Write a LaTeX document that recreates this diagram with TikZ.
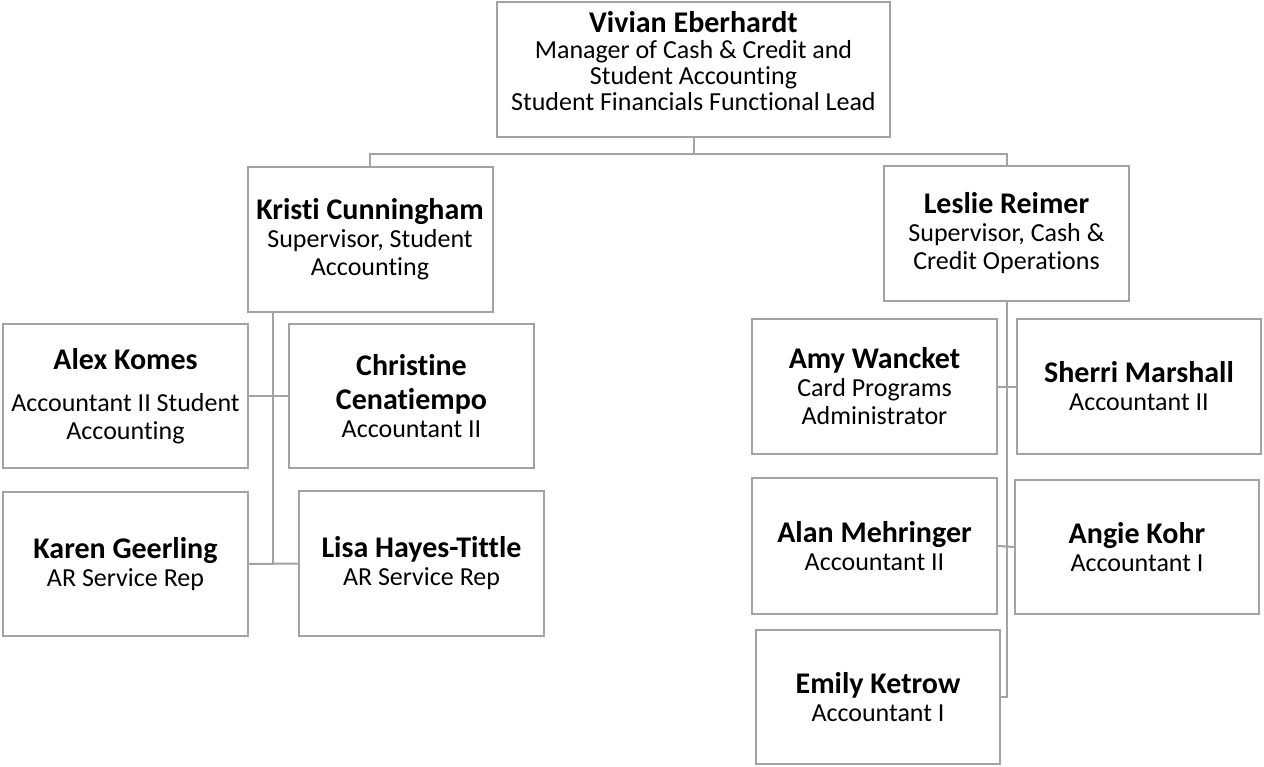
\documentclass[tikz,border=0pt]{standalone}
\usepackage{fontspec}
\setmainfont{Carlito}[Ligatures=NoCommon]
\usepackage{tikz}

\definecolor{boxgray}{HTML}{A3A3A3}
\newcommand{\pname}[1]{{\fontsize{30}{32}\selectfont\bfseries #1}}

\begin{document}
\begin{tikzpicture}[x=1pt,y=-1pt,
  box/.style={draw=boxgray,line width=2pt,align=center,minimum width=245pt,minimum height=135pt,inner sep=2pt,font=\fontsize{26}{28}\selectfont},
  link/.style={draw=boxgray,line width=2pt}]
  %枠
  \useasboundingbox (0,0) rectangle (1264,767);

  %管理者
  \node[box,minimum width=393pt,font=\fontsize{26}{26}\selectfont] (vivian) at (693.5,70) {\pname{Vivian Eberhardt}\\Manager of Cash \& Credit and\\Student Accounting\\Student Financials Functional Lead\\[-8pt]\mbox{}};

  %監督者
  \node[box,minimum height=145pt] (kristi) at (370,239.5) {\pname{Kristi Cunningham}\\Supervisor, Student\\Accounting};
  \node[box] (leslie) at (1006.5,233.5) {\pname{Leslie Reimer}\\Supervisor, Cash \&\\Credit Operations};

  %左側
  \node[box,minimum height=144pt] (alex) at (125.5,396) {\pname{Alex Komes}\\[14pt]Accountant II Student\\Accounting};
  \node[box,minimum height=144pt] (christine) at (411.5,396) {\pname{Christine}\\[6pt]\pname{Cenatiempo}\\Accountant II};
  \node[box,minimum height=144pt] (karen) at (125.5,564) {\pname{Karen Geerling}\\AR Service Rep};
  \node[box,minimum height=145pt] (lisa) at (421.5,563.5) {\pname{Lisa Hayes-Tittle}\\AR Service Rep};

  %右側
  \node[box] (amy) at (874.5,386.5) {\pname{Amy Wancket}\\Card Programs\\Administrator};
  \node[box,minimum width=244pt] (sherri) at (1139,386.5) {\pname{Sherri Marshall}\\Accountant II};
  \node[box,minimum height=136pt] (alan) at (874.5,546) {\pname{Alan Mehringer}\\Accountant II};
  \node[box,minimum width=244pt,minimum height=134pt] (angie) at (1137,547) {\pname{Angie Kohr}\\Accountant I};
  \node[box,minimum width=244pt,minimum height=134pt] (emily) at (878,697) {\pname{Emily Ketrow}\\Accountant I};

  %線
  \coordinate (ktrunk) at (273,564);
  \coordinate (ltrunk) at (1007,697);

  \draw[link] (vivian.south) -- ++(0,16) -| (kristi.north);
  \draw[link] (vivian.south) -- ++(0,16) -| (leslie.north);

  \draw[link] (kristi.south -| ktrunk) -- (ktrunk);
  \draw[link] (alex.east) -- (christine.west);
  \draw[link] (karen.east) -- (lisa.west);

  \draw[link] (leslie.south) -- (leslie.south |- ltrunk) -- (emily.east);
  \draw[link] (amy.east) -- (sherri.west);
  \draw[link] (alan.east) -- (angie.west);
\end{tikzpicture}
\end{document}
